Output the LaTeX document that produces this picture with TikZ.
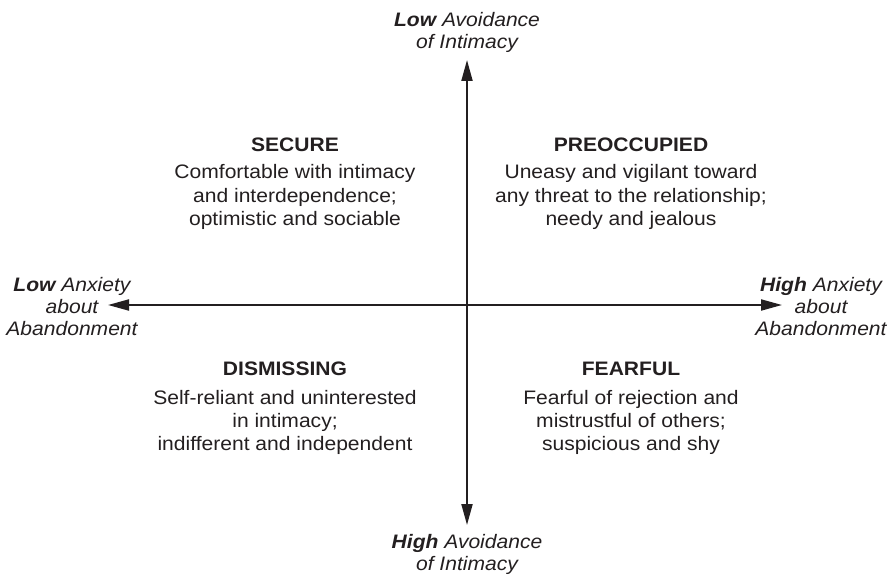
\documentclass[tikz,border=0pt]{standalone}
\usepackage{fontspec}
\setmainfont[FakeStretch=1.08]{Liberation Sans}
\usetikzlibrary{arrows.meta}
\definecolor{ink}{RGB}{35,31,32}
\begin{document}
\begin{tikzpicture}[x=1pt,y=-1pt,
  every node/.style={inner sep=0pt, text=ink, font=\fontsize{19.5}{23}\selectfont},
  qtitle/.style={anchor=base, font=\fontsize{19.5}{23}\selectfont\bfseries},
  qbody/.style={anchor=base},
  axislab/.style={anchor=base, font=\fontsize{19.5}{23}\selectfont\itshape},
  axis/.style={line width=2pt, draw=ink, -{Triangle[length=21pt,width=11pt]}}]
\useasboundingbox (0,0) rectangle (893,575);
% axes
\coordinate (o) at (467,305);
\coordinate (top) at (467,60);
\coordinate (bot) at (467,525);
\coordinate (lft) at (108,305);
\coordinate (rgt) at (782,305);
\draw[axis] (o) -- (top);
\draw[axis] (o) -- (bot);
\draw[axis] (o) -- (lft);
\draw[axis] (o) -- (rgt);
% axis labels
\node[axislab] (lowav1) at (467,27) {\textbf{Low} Avoidance};
\node[axislab] (lowav2) at (467,49) {of Intimacy};
\node[axislab] (highav1) at (467,548) {\textbf{High} Avoidance};
\node[axislab] (highav2) at (467,570) {of Intimacy};
\node[axislab] (lowan1) at (72,291) {\textbf{Low} Anxiety};
\node[axislab] (lowan2) at (72,313) {about};
\node[axislab] (lowan3) at (72,335) {Abandonment};
\node[axislab] (highan1) at (821,291) {\textbf{High} Anxiety};
\node[axislab] (highan2) at (821,313) {about};
\node[axislab] (highan3) at (821,335) {Abandonment};
% secure
\node[qtitle] (secT) at (295,151.5) {SECURE};
\node[qbody] (sec1) at (295,178.5) {Comfortable with intimacy};
\node[qbody] (sec2) at (295,202) {and interdependence;};
\node[qbody] (sec3) at (295,225.5) {optimistic and sociable};
% preoccupied
\node[qtitle] (preT) at (631,151.5) {PREOCCUPIED};
\node[qbody] (pre1) at (631,178.5) {Uneasy and vigilant toward};
\node[qbody] (pre2) at (631,202) {any threat to the relationship;};
\node[qbody] (pre3) at (631,225.5) {needy and jealous};
% dismissing
\node[qtitle] (disT) at (285,375) {DISMISSING};
\node[qbody] (dis1) at (285,404) {Self-reliant and uninterested};
\node[qbody] (dis2) at (285,427) {in intimacy;};
\node[qbody] (dis3) at (285,450) {indifferent and independent};
% fearful
\node[qtitle] (feaT) at (631,375) {FEARFUL};
\node[qbody] (fea1) at (631,404) {Fearful of rejection and};
\node[qbody] (fea2) at (631,427) {mistrustful of others;};
\node[qbody] (fea3) at (631,450) {suspicious and shy};
\end{tikzpicture}
\end{document}
